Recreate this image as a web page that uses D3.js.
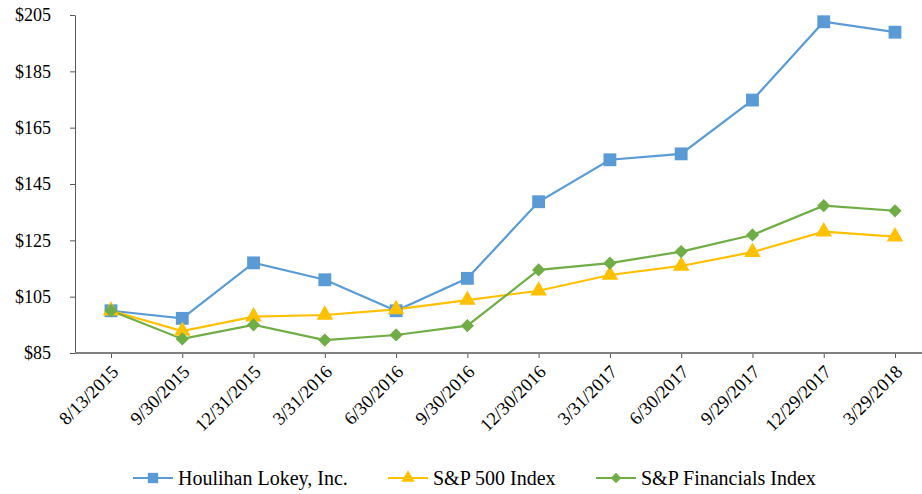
<!DOCTYPE html>
<html>
<head>
    <script src="https://d3js.org/d3.v7.min.js"></script>
    <style>
        body { margin: 0; background: white; }
        text { font-family: "Liberation Serif", "Times New Roman", serif; fill: #000; }
    </style>
</head>
<body>
    <div id="chart"></div>
    <script>
        const dates = ["8/13/2015", "9/30/2015", "12/31/2015", "3/31/2016", "6/30/2016", "9/30/2016",
            "12/30/2016", "3/31/2017", "6/30/2017", "9/29/2017", "12/29/2017", "3/29/2018"];
        const houlihan = [100, 97.3, 117, 111, 100, 111.5, 138.7, 153.6, 155.7, 174.8, 202.6, 198.9];
        const sp500 = [100, 92.8, 97.9, 98.5, 100.5, 103.8, 107.1, 112.7, 115.9, 120.8, 128.1, 126.3];
        const financials = [100, 90, 95, 89.6, 91.4, 94.7, 114.5, 116.9, 121, 126.9, 137.3, 135.5];
        const yTicks = [85, 105, 125, 145, 165, 185, 205];

        const series = [
            { name: "Houlihan Lokey, Inc.", values: houlihan, color: "#5B9BD5", symbol: d3.symbolSquare, size: 165, rot: 0 },
            { name: "S&P 500 Index", values: sp500, color: "#FFC000", symbol: d3.symbolTriangle, size: 120, rot: 0 },
            { name: "S&P Financials Index", values: financials, color: "#70AD47", symbol: d3.symbolSquare, size: 88, rot: 45 }
        ];

        const width = 922, height = 494;
        const axisLeft = 75, axisRight = 922;

        const x = d3.scalePoint().domain(dates).range([111, 895]);
        const y = d3.scaleLinear().domain([85, 205]).range([353, 15]);

        const svg = d3.select("#chart").append("svg")
            .attr("width", width)
            .attr("height", height);

        // y axis
        const yAxis = svg.append("g")
            .attr("transform", `translate(${axisLeft},0)`)
            .call(d3.axisLeft(y).tickValues(yTicks).tickFormat(d => "$" + d).tickSize(5).tickSizeOuter(0).tickPadding(19));
        yAxis.select(".domain").attr("stroke", "#595959");
        yAxis.selectAll(".tick line").attr("stroke", "#595959");
        yAxis.selectAll("text").style("font-size", "18px").style("font-family", "Liberation Serif");

        // x axis
        const xAxis = svg.append("g")
            .attr("transform", `translate(0,${y(85)})`)
            .call(d3.axisBottom(x).tickSize(5).tickSizeOuter(0));
        xAxis.select(".domain").remove();
        xAxis.append("line")
            .attr("x1", axisLeft).attr("x2", axisRight)
            .attr("stroke", "#808080").attr("stroke-width", 2);
        xAxis.selectAll(".tick line").attr("stroke", "#595959");
        xAxis.selectAll("text")
            .style("font-size", "18.5px")
            .style("font-family", "Liberation Serif")
            .attr("text-anchor", "end")
            .attr("dx", "0")
            .attr("dy", "0")
            .attr("y", 0)
            .attr("transform", "translate(8,20) rotate(-45)");

        const line = d3.line()
            .x((d, i) => x(dates[i]))
            .y(d => y(d));

        series.forEach(s => {
            svg.append("path")
                .datum(s.values)
                .attr("d", line)
                .attr("fill", "none")
                .attr("stroke", s.color)
                .attr("stroke-width", 2.2);
        });
        series.forEach(s => {
            svg.append("g").selectAll("path")
                .data(s.values)
                .join("path")
                .attr("transform", (d, i) => `translate(${x(dates[i])},${y(d)}) rotate(${s.rot})`)
                .attr("d", d3.symbol(s.symbol, s.size))
                .attr("fill", s.color);
        });

        // legend
        const legendX = [133, 388, 596];
        const legend = svg.append("g").attr("transform", "translate(0,478)");
        series.forEach((s, i) => {
            const g = legend.append("g").attr("transform", `translate(${legendX[i]},0)`);
            g.append("line").attr("x1", 0).attr("x2", 40)
                .attr("stroke", s.color).attr("stroke-width", 2.2);
            g.append("path").attr("transform", `translate(20,0) rotate(${s.rot})`)
                .attr("d", d3.symbol(s.symbol, s.size * 0.65)).attr("fill", s.color);
            g.append("text").attr("x", 45).attr("dy", "0.35em")
                .style("font-size", "20px").text(s.name);
        });
    </script>
</body>
</html>
